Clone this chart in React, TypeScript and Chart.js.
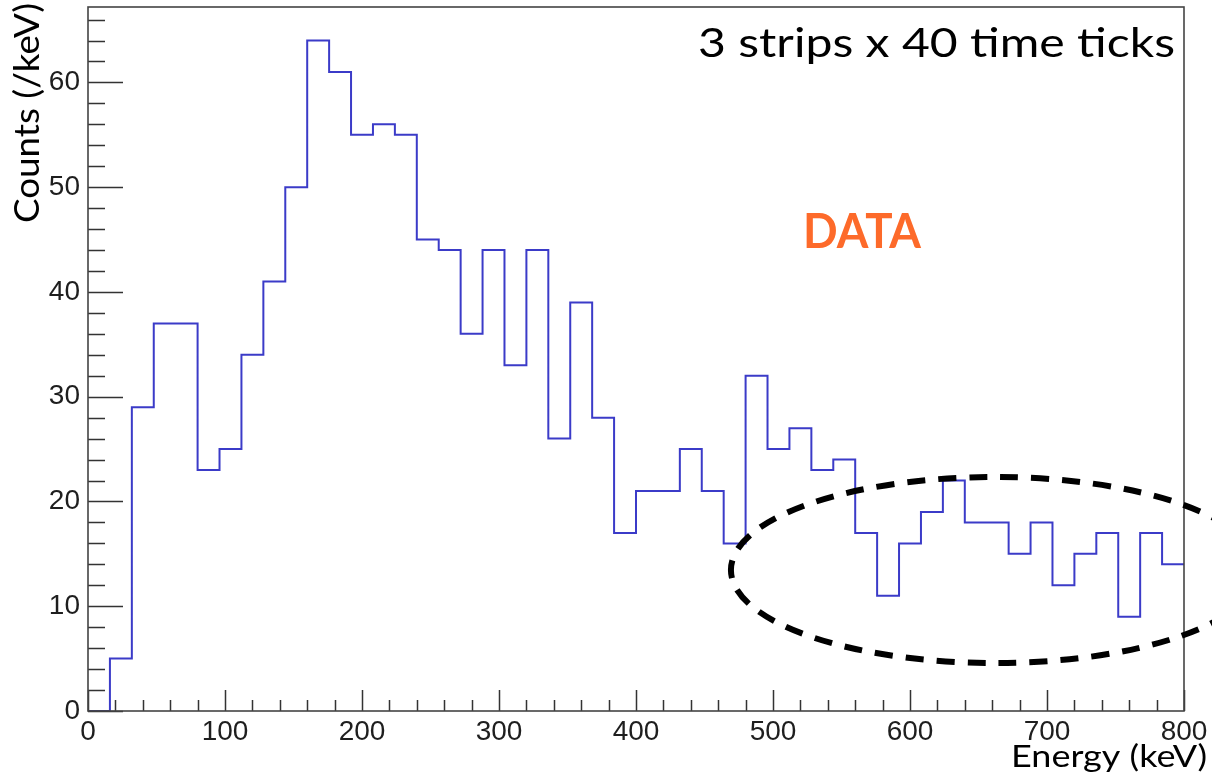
import { useEffect, useRef } from "react";
import { Chart, registerables } from "chart.js";

Chart.register(...registerables);

// Histogram binning (keV)
const BIN_WIDTH = 16;
const ENERGY_MIN = 0;
const ENERGY_MAX = 800;
const COUNTS_MAX = 67.2;

// Counts per bin, starting at 0 keV
const binCounts = [
  0, 5, 29, 37, 37, 23, 25, 34, 41, 50,
  64, 61, 55, 56, 55, 45, 44, 36, 44, 33,
  44, 26, 39, 28, 17, 21, 21, 25, 21, 16,
  32, 25, 27, 23, 24, 17, 11, 16, 19, 22,
  18, 18, 15, 18, 12, 15, 17, 9, 17, 14,
];

// Axis ticks
const xMajorTicks = [0, 100, 200, 300, 400, 500, 600, 700, 800];
const yMajorTicks = [0, 10, 20, 30, 40, 50, 60];
const X_MINOR_STEP = 20;
const Y_MINOR_STEP = 2;
const Y_MINOR_TOP = 66;

// Highlighted region (data units): centre energy, centre counts, half-widths
const regionCenter = [662, 13.46];
const regionRadii = [192.7, 8.88];

const titleText = "3 strips x 40 time ticks";
const tagText = "DATA";
const xTitle = "Energy (keV)";
const yTitle = "Counts (/keV)";

const LABEL_FONT = '"Liberation Sans", Arial, Helvetica, sans-serif';
const NOTE_FONT = 'Lato, "Open Sans", sans-serif';

function drawFitted(
  ctx: CanvasRenderingContext2D,
  text: string,
  font: string,
  color: string,
  x: number,
  y: number,
  width: number,
  vertical = false
) {
  ctx.save();
  ctx.font = font;
  ctx.fillStyle = color;
  ctx.textBaseline = "alphabetic";
  ctx.textAlign = "left";
  const w = ctx.measureText(text).width;
  ctx.translate(x, y);
  if (vertical) ctx.rotate(-Math.PI / 2);
  ctx.scale(width / w, 1);
  ctx.fillText(text, 0, 0);
  ctx.restore();
}

const frameAndTicks = {
  id: "frameAndTicks",
  afterDatasetsDraw(chart: any) {
    const { ctx, chartArea, scales } = chart;
    const xs = scales.x;
    const ys = scales.y;
    ctx.save();
    ctx.strokeStyle = "#333";
    ctx.lineWidth = 1.5;
    ctx.beginPath();
    // y ticks (left side, pointing inward)
    const yMajorLen = 35;
    const yMinorLen = 17;
    for (let v = 0; v <= Y_MINOR_TOP + 1e-9; v += Y_MINOR_STEP) {
      const py = Math.round(ys.getPixelForValue(v)) + 0.5;
      const len = yMajorTicks.includes(v) ? yMajorLen : yMinorLen;
      ctx.moveTo(chartArea.left, py);
      ctx.lineTo(chartArea.left + len, py);
    }
    // x ticks (bottom side, pointing inward)
    const xMajorLen = 21;
    const xMinorLen = 11;
    for (let v = ENERGY_MIN; v <= ENERGY_MAX + 1e-9; v += X_MINOR_STEP) {
      const px = Math.round(xs.getPixelForValue(v)) + 0.5;
      const len = xMajorTicks.includes(v) ? xMajorLen : xMinorLen;
      ctx.moveTo(px, chartArea.bottom);
      ctx.lineTo(px, chartArea.bottom - len);
    }
    ctx.stroke();
    // frame
    ctx.strokeStyle = "#444";
    ctx.lineWidth = 1.6;
    ctx.strokeRect(
      chartArea.left,
      chartArea.top,
      chartArea.right - chartArea.left,
      chartArea.bottom - chartArea.top
    );
    ctx.restore();
  },
  afterDraw(chart: any) {
    const { ctx, scales } = chart;
    const xs = scales.x;
    const ys = scales.y;
    // dashed ellipse marking the high-energy region
    const cx = xs.getPixelForValue(regionCenter[0]);
    const cy = ys.getPixelForValue(regionCenter[1]);
    const rx = xs.getPixelForValue(regionCenter[0] + regionRadii[0]) - cx;
    const ry = cy - ys.getPixelForValue(regionCenter[1] + regionRadii[1]);
    ctx.save();
    ctx.strokeStyle = "#000";
    ctx.lineWidth = 6;
    ctx.setLineDash([18, 13]);
    ctx.lineDashOffset = 4;
    ctx.beginPath();
    ctx.ellipse(cx, cy, rx, ry, 0, 0, Math.PI * 2);
    ctx.stroke();
    ctx.restore();

    // annotations
    drawFitted(ctx, titleText, `40px ${NOTE_FONT}`, "#000", 698, 57, 477);
    drawFitted(ctx, tagText, `bold 48px ${NOTE_FONT}`, "#fd6a2a", 803, 248, 118);
    drawFitted(ctx, xTitle, `30px ${NOTE_FONT}`, "#000", 1011, 767, 196);
    drawFitted(ctx, yTitle, `34px ${NOTE_FONT}`, "#000", 39, 223, 220, true);
  },
};

export default function App() {
  const canvasRef = useRef<HTMLCanvasElement | null>(null);

  useEffect(() => {
    let chart: Chart | null = null;
    let cancelled = false;

    // one point per bin low edge, plus the closing upper edge
    const points = binCounts.map((c, i) => ({ x: ENERGY_MIN + i * BIN_WIDTH, y: c }));
    points.push({ x: ENERGY_MAX, y: binCounts[binCounts.length - 1] });

    const build = () => {
      if (cancelled || !canvasRef.current) return;
      chart = new Chart(canvasRef.current, {
        type: "line",
        data: {
          datasets: [
            {
              data: points,
              stepped: "before",
              borderColor: "#3b3bc8",
              borderWidth: 2,
              pointRadius: 0,
              fill: false,
            },
          ],
        },
        options: {
          responsive: false,
          animation: false,
          events: [],
          layout: { padding: { left: 0, top: 7, right: 28, bottom: 0 } },
          plugins: { legend: { display: false }, tooltip: { enabled: false } },
          scales: {
            x: {
              type: "linear",
              min: ENERGY_MIN,
              max: ENERGY_MAX,
              grid: { display: false, drawTicks: false },
              border: { display: false },
              ticks: {
                stepSize: 100,
                autoSkip: false,
                maxRotation: 0,
                padding: 4,
                color: "#1e1e1e",
                font: { family: LABEL_FONT, size: 28 },
              },
              afterFit(s: any) {
                s.height = 63;
                s.paddingLeft = 0;
                s.paddingRight = 0;
              },
            },
            y: {
              type: "linear",
              min: 0,
              max: COUNTS_MAX,
              grid: { display: false, drawTicks: false },
              border: { display: false },
              ticks: {
                stepSize: 10,
                includeBounds: false,
                padding: 8,
                color: "#1e1e1e",
                font: { family: LABEL_FONT, size: 28 },
              },
              afterFit(s: any) {
                s.width = 88;
                s.paddingTop = 0;
                s.paddingBottom = 0;
              },
            },
          },
        },
        plugins: [frameAndTicks],
      });
    };

    const fontsReady = (document as any).fonts
      ? Promise.all([
          (document as any).fonts.load(`40px Lato`),
          (document as any).fonts.load(`bold 40px Lato`),
          (document as any).fonts.load(`28px "Liberation Sans"`),
        ]).catch(() => undefined)
      : Promise.resolve();
    fontsReady.then(build);

    return () => {
      cancelled = true;
      if (chart) chart.destroy();
    };
  }, []);

  return (
    <div style={{ position: "fixed", left: 0, top: 0, width: 1212, height: 774, background: "#fff" }}>
      <canvas ref={canvasRef} width={1212} height={774} style={{ display: "block" }} />
    </div>
  );
}
